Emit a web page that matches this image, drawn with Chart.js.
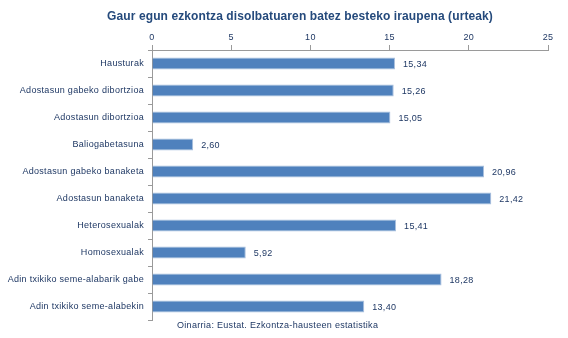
<!DOCTYPE html>
<html>
<head>
<meta charset="utf-8">
<script src="https://cdn.jsdelivr.net/npm/chart.js@4/dist/chart.umd.min.js"></script>
<style>
  html, body { margin: 0; padding: 0; background: #fff; }
  #wrap { width: 568px; height: 338px; position: relative; }
</style>
</head>
<body>
<div id="wrap"><canvas id="c" width="568" height="338"></canvas></div>
<script>
const categories = [
  'Hausturak',
  'Adostasun gabeko dibortzioa',
  'Adostasun dibortzioa',
  'Baliogabetasuna',
  'Adostasun gabeko banaketa',
  'Adostasun banaketa',
  'Heterosexualak',
  'Homosexualak',
  'Adin txikiko seme-alabarik gabe',
  'Adin txikiko seme-alabekin'
];
const durations = [15.34, 15.26, 15.05, 2.60, 20.96, 21.42, 15.41, 5.92, 18.28, 13.40];
const xTicks = [0, 5, 10, 15, 20, 25];

const titleText = 'Gaur egun ezkontza disolbatuaren batez besteko iraupena (urteak)';
const sourceText = 'Oinarria: Eustat. Ezkontza-hausteen estatistika';

const navy = '#1F3864';
const fontFamily = '"Liberation Sans", Arial, sans-serif';
const labelSpacing = '0.3px';

const canvas = document.getElementById('c');

// Loose letter spacing for the small labels (context state is reset on resize)
const spacing = {
  id: 'spacing',
  beforeUpdate(chart) { chart.ctx.letterSpacing = labelSpacing; },
  beforeDraw(chart) { chart.ctx.letterSpacing = labelSpacing; }
};

// Value labels at the end of each bar, plus title and source note
const annotate = {
  id: 'annotate',
  afterDatasetsDraw(chart) {
    const ctx = chart.ctx;
    const meta = chart.getDatasetMeta(0);
    ctx.save();
    ctx.letterSpacing = labelSpacing;
    ctx.font = '9px ' + fontFamily;
    ctx.fillStyle = navy;
    ctx.textAlign = 'left';
    ctx.textBaseline = 'middle';
    meta.data.forEach((bar, i) => {
      const txt = durations[i].toFixed(2).replace('.', ',');
      ctx.fillText(txt, bar.x + 8, bar.y + 1);
    });
    ctx.fillText(sourceText, 177, 326);
    ctx.letterSpacing = '0.1px';
    ctx.font = 'bold 12px ' + fontFamily;
    ctx.fillStyle = '#254A7C';
    ctx.textAlign = 'center';
    ctx.fillText(titleText, 300, 17);
    ctx.restore();
  }
};

new Chart(canvas, {
  type: 'bar',
  data: {
    labels: categories,
    datasets: [{
      data: durations,
      backgroundColor: '#4F81BD',
      borderColor: '#A9BFDD',
      borderWidth: 1,
      borderSkipped: 'left',
      barPercentage: 0.44,
      categoryPercentage: 1.0
    }]
  },
  options: {
    indexAxis: 'y',
    responsive: false,
    animation: false,
    devicePixelRatio: 1,
    layout: { padding: { top: 0, right: 20, bottom: 18, left: 0 } },
    plugins: {
      legend: { display: false },
      tooltip: { enabled: false }
    },
    scales: {
      x: {
        position: 'top',
        min: 0,
        max: 25,
        afterBuildTicks(scale) { scale.ticks = xTicks.map(v => ({ value: v })); },
        afterFit(scale) { scale.height = 50; },
        grid: { drawOnChartArea: false, tickLength: 5, color: '#9A9A9A' },
        border: { display: true, color: '#9A9A9A', width: 1 },
        ticks: {
          font: { family: fontFamily, size: 9 },
          color: navy,
          padding: 2,
          maxRotation: 0
        }
      },
      y: {
        afterFit(scale) { scale.width = 152; },
        grid: { drawOnChartArea: false, tickLength: 4, color: '#9A9A9A', offset: true },
        border: { display: true, color: '#9A9A9A', width: 1 },
        ticks: {
          font: { family: fontFamily, size: 9 },
          color: navy,
          padding: 4,
          autoSkip: false
        }
      }
    }
  },
  plugins: [spacing, annotate]
});
</script>
</body>
</html>
